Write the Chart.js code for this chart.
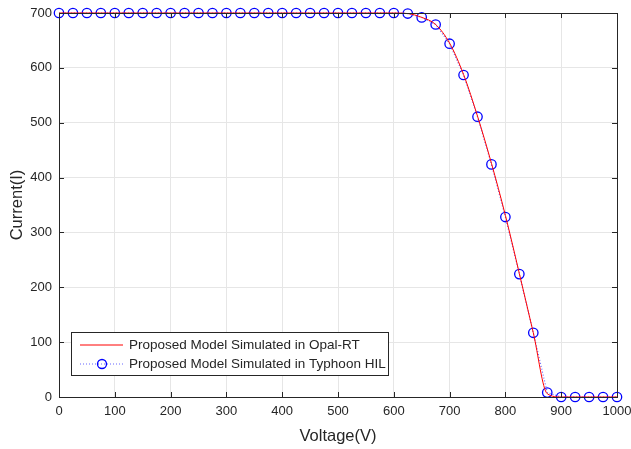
<!DOCTYPE html>
<html>
<head>
<meta charset="utf-8">
<script src="https://cdn.jsdelivr.net/npm/chart.js@4"></script>
<style>
  html, body { margin: 0; padding: 0; background: #fff; }
  #wrap { width: 631px; height: 449px; position: relative; }
</style>
</head>
<body>
<div id="wrap"><canvas id="grafico"></canvas></div>
<script>
// tensões (V) a cada 25 V
const voltage = [0, 25, 50, 75, 100, 125, 150, 175, 200, 225, 250, 275, 300, 325, 350, 375, 400,
  425, 450, 475, 500, 525, 550, 575, 600, 625, 650, 675, 700, 725, 750, 775, 800, 825, 850, 875,
  900, 925, 950, 975, 1000];

// Opal-RT (linha vermelha)
const currentOpal = [700, 700, 700, 700, 700, 700, 700, 700, 700, 700, 700, 700, 700, 700, 700, 700, 700,
  700, 700, 700, 700, 700, 700, 700, 700, 699, 692, 679, 645, 588, 512, 426, 331, 225, 117, 6,
  0, 0, 0, 0, 0];

// Typhoon HIL (círculos azuis)
const currentTyphoon = [700, 700, 700, 700, 700, 700, 700, 700, 700, 700, 700, 700, 700, 700, 700, 700, 700,
  700, 700, 700, 700, 700, 700, 700, 700, 699, 692, 679, 644, 587, 511, 424, 328, 224, 117, 8,
  0, 0, 0, 0, 0];

const xTicks = [0, 100, 200, 300, 400, 500, 600, 700, 800, 900, 1000];
const yTicks = [0, 100, 200, 300, 400, 500, 600, 700];

const FONTE = "'Liberation Sans', Arial, sans-serif";
const COR_EIXO = '#262626';

// borda, marcas internas e legenda no estilo MATLAB
const estiloMatlab = {
  id: 'estiloMatlab',
  afterDraw(chart) {
    const { ctx, chartArea: a, scales } = chart;
    ctx.save();
    ctx.strokeStyle = COR_EIXO;
    ctx.lineWidth = 1;
    ctx.beginPath();
    xTicks.forEach(v => {
      const px = Math.round(scales.x.getPixelForValue(v)) + 0.5;
      ctx.moveTo(px, a.bottom); ctx.lineTo(px, a.bottom - 5);
      ctx.moveTo(px, a.top); ctx.lineTo(px, a.top + 5);
    });
    yTicks.forEach(v => {
      const py = Math.round(scales.y.getPixelForValue(v)) + 0.5;
      ctx.moveTo(a.left, py); ctx.lineTo(a.left + 5, py);
      ctx.moveTo(a.right, py); ctx.lineTo(a.right - 5, py);
    });
    ctx.stroke();
    ctx.strokeRect(Math.round(a.left) + 0.5, Math.round(a.top) + 0.5,
      Math.round(a.right - a.left), Math.round(a.bottom - a.top));

    // legenda
    const bx = 71.5, by = 332.5, bw = 317, bh = 43;
    ctx.fillStyle = '#fff';
    ctx.fillRect(bx, by, bw, bh);
    ctx.strokeStyle = COR_EIXO;
    ctx.strokeRect(bx, by, bw, bh);
    ctx.font = '13.5px ' + FONTE;
    ctx.textBaseline = 'middle';
    ctx.fillStyle = COR_EIXO;
    const ds = chart.data.datasets;
    // linha 1
    ctx.strokeStyle = '#ff0000';
    ctx.beginPath(); ctx.moveTo(80, 345); ctx.lineTo(123, 345); ctx.stroke();
    ctx.fillText(ds[0].label, 129, 345);
    // linha 2
    ctx.strokeStyle = 'rgba(0,0,255,0.6)';
    ctx.setLineDash([1, 2]);
    ctx.beginPath(); ctx.moveTo(80, 364); ctx.lineTo(123, 364); ctx.stroke();
    ctx.setLineDash([]);
    ctx.strokeStyle = '#0000ff';
    ctx.lineWidth = 1.3;
    ctx.beginPath(); ctx.arc(102, 364, 4.5, 0, Math.PI * 2); ctx.stroke();
    ctx.fillText(ds[1].label, 129, 364);
    ctx.restore();
  }
};

new Chart(document.getElementById('grafico'), {
  type: 'line',
  data: {
    datasets: [{
      label: 'Proposed Model Simulated in Opal-RT',
      data: voltage.map((v, i) => ({ x: v, y: currentOpal[i] })),
      borderColor: '#ff0000',
      borderWidth: 1,
      pointRadius: 0,
      cubicInterpolationMode: 'monotone'
    }, {
      label: 'Proposed Model Simulated in Typhoon HIL',
      data: voltage.map((v, i) => ({ x: v, y: currentTyphoon[i] })),
      borderColor: 'rgba(0,0,255,0.6)',
      borderWidth: 1.2,
      borderDash: [1, 2],
      pointRadius: 4.7,
      pointBorderWidth: 1.3,
      pointBorderColor: '#0000ff',
      pointBackgroundColor: 'rgba(0,0,0,0)'
    }]
  },
  options: {
    responsive: true,
    maintainAspectRatio: false,
    animation: false,
    clip: false,
    layout: { padding: { left: 0, right: 14, top: 13, bottom: 0 } },
    plugins: { legend: { display: false }, tooltip: { enabled: false } },
    scales: {
      x: {
        type: 'linear', min: 0, max: 1000,
        afterBuildTicks: s => { s.ticks = xTicks.map(v => ({ value: v })); },
        afterFit: s => { s.height = 52; s.paddingLeft = 0; s.paddingRight = 0; },
        ticks: { color: COR_EIXO, font: { family: FONTE, size: 13 }, padding: 7, maxRotation: 0,
          callback: v => String(v) },
        grid: { color: '#e6e6e6', drawTicks: false },
        border: { color: COR_EIXO },
        title: { display: true, text: 'Voltage(V)', color: COR_EIXO, font: { family: FONTE, size: 16.5 }, padding: { top: 2, bottom: 3 } }
      },
      y: {
        min: 0, max: 700,
        afterBuildTicks: s => { s.ticks = yTicks.map(v => ({ value: v })); },
        afterFit: s => { s.width = 59; s.paddingTop = 0; s.paddingBottom = 0; },
        ticks: { color: COR_EIXO, font: { family: FONTE, size: 13 }, padding: 7 },
        grid: { color: '#e6e6e6', drawTicks: false },
        border: { color: COR_EIXO },
        title: { display: true, text: 'Current(I)', color: COR_EIXO, font: { family: FONTE, size: 16.5 }, padding: { top: 8, bottom: 0 } }
      }
    }
  },
  plugins: [estiloMatlab]
});
</script>
</body>
</html>
